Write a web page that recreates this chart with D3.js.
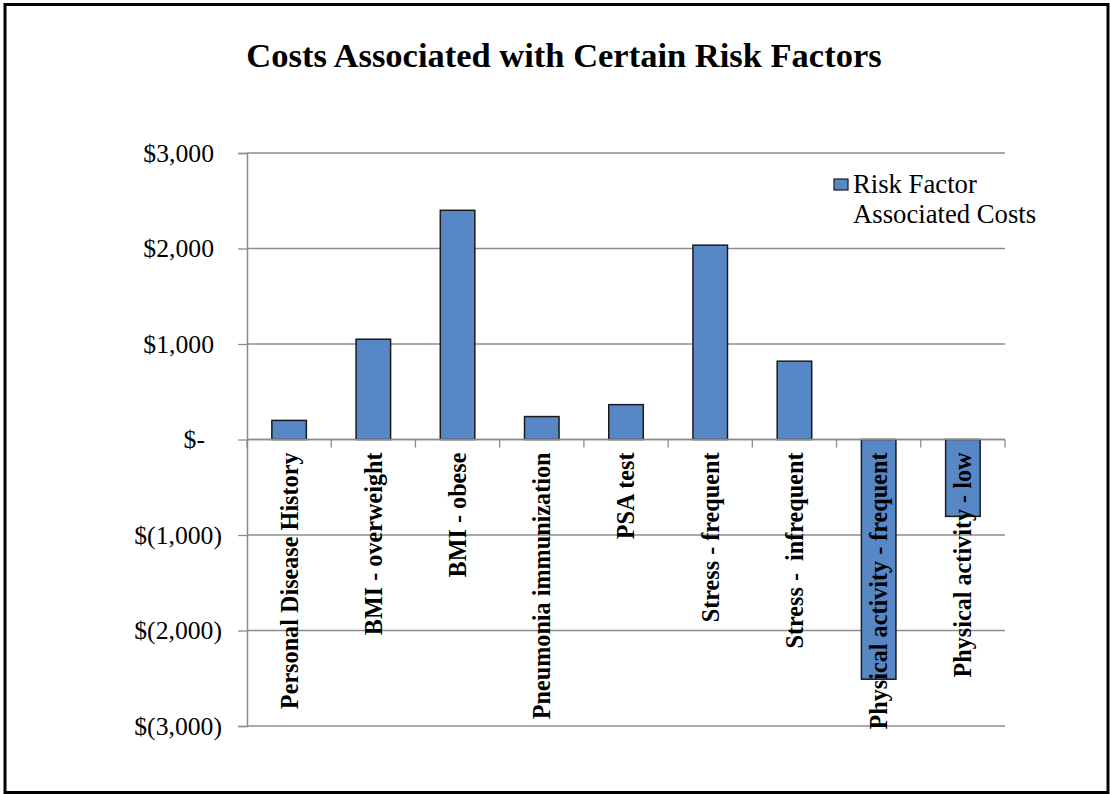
<!DOCTYPE html>
<html>
<head>
<meta charset="utf-8">
<script src="https://cdn.jsdelivr.net/npm/d3@7"></script>
<style>
  body { margin: 0; background: #fff; }
  svg { display: block; font-family: "Liberation Serif", "Times New Roman", serif; }
</style>
</head>
<body>
<svg width="1110" height="794"></svg>
<script>
  // data
  var categories = ['Personal Disease History', 'BMI - overweight', 'BMI - obese',
    'Pneumonia immunization', 'PSA test', 'Stress - frequent', 'Stress -  infrequent',
    'Physical activity - frequent', 'Physical activity - low'];
  var costs = [200, 1050, 2400, 240, 365, 2035, 820, -2510, -805];
  var yTicks = [3000, 2000, 1000, 0, -1000, -2000, -3000];
  var seriesName = ['Risk Factor', 'Associated Costs'];
  var title = 'Costs Associated with Certain Risk Factors';

  var data = categories.map(function (c, i) { return { name: c, value: costs[i] }; });

  var svg = d3.select('svg'),
    margin = { top: 153, right: 105, bottom: 68, left: 247 },
    width = +svg.attr('width') - margin.left - margin.right,
    height = +svg.attr('height') - margin.top - margin.bottom;

  // outer frame
  svg.append('rect')
    .attr('x', 5).attr('y', 4.5)
    .attr('width', 1103).attr('height', 788)
    .attr('fill', '#fff')
    .attr('stroke', '#000')
    .attr('stroke-width', 3);

  // title
  svg.append('text')
    .attr('x', 564)
    .attr('y', 67)
    .attr('text-anchor', 'middle')
    .style('font-size', '34.5px')
    .style('font-weight', 'bold')
    .text(title);

  var g = svg.append('g').attr('transform', 'translate(' + margin.left + ',' + margin.top + ')');

  var x = d3.scaleBand().domain(categories).range([0, width]).paddingInner(0.59).paddingOuter(0.295);
  var y = d3.scaleLinear().domain([-3000, 3000]).range([height, 0]);

  // gridlines
  g.append('g')
    .selectAll('line')
    .data(yTicks)
    .enter().append('line')
    .attr('x1', 0).attr('x2', width)
    .attr('y1', function (d) { return y(d); })
    .attr('y2', function (d) { return y(d); })
    .attr('stroke', '#8c8c8c')
    .attr('stroke-width', 1.3);

  // bars
  g.selectAll('.bar')
    .data(data)
    .enter().append('rect')
    .attr('class', 'bar')
    .attr('x', function (d) { return x(d.name); })
    .attr('width', x.bandwidth())
    .attr('y', function (d) { return y(Math.max(0, d.value)); })
    .attr('height', function (d) { return Math.abs(y(d.value) - y(0)); })
    .attr('fill', '#5787c5')
    .attr('stroke', '#1a1a1a')
    .attr('stroke-width', 1.5);

  // y axis
  var fmt = function (d) {
    if (d === 0) return '$-';
    var s = '$' + d3.format(',')(Math.abs(d));
    return d < 0 ? '$(' + d3.format(',')(Math.abs(d)) + ')' : s;
  };
  var yAxis = g.append('g')
    .call(d3.axisLeft(y).tickValues(yTicks).tickFormat(fmt).tickSize(9).tickPadding(0));
  yAxis.select('.domain').attr('stroke', '#8c8c8c').attr('stroke-width', 1.5);
  yAxis.selectAll('.tick line').attr('stroke', '#8c8c8c').attr('stroke-width', 1.3);
  yAxis.selectAll('.tick text')
    .attr('fill', '#000')
    .style('font-size', '25.7px')
    .style('font-family', '"Liberation Serif", serif')
    .attr('x', function (d) { return d < 0 ? -25 : (d === 0 ? -42 : -33); })
    .attr('dy', '0.32em');

  // x axis at zero, ticks at band boundaries
  var bounds = d3.range(categories.length + 1).map(function (i) { return i * width / categories.length; });
  var xg = g.append('g').attr('transform', 'translate(0,' + y(0) + ')');
  xg.append('line')
    .attr('x1', 0).attr('x2', width)
    .attr('stroke', '#8c8c8c').attr('stroke-width', 1.5);
  xg.selectAll('.xt')
    .data(bounds)
    .enter().append('line')
    .attr('class', 'xt')
    .attr('x1', function (d) { return d; })
    .attr('x2', function (d) { return d; })
    .attr('y1', 0).attr('y2', 8)
    .attr('stroke', '#8c8c8c').attr('stroke-width', 1.3);

  // category labels, rotated
  xg.selectAll('.xl')
    .data(categories)
    .enter().append('text')
    .attr('class', 'xl')
    .attr('transform', function (d) {
      return 'translate(' + (x(d) + x.bandwidth() / 2) + ',13) rotate(-90)';
    })
    .attr('text-anchor', 'end')
    .attr('dy', '0.35em')
    .style('font-size', '24.2px')
    .style('font-weight', 'bold')
    .style('white-space', 'pre')
    .text(function (d) { return d; });

  // legend
  var lg = svg.append('g').attr('transform', 'translate(834,179)');
  lg.append('rect')
    .attr('width', 14).attr('height', 11)
    .attr('fill', '#5787c5')
    .attr('stroke', '#1a1a1a')
    .attr('stroke-width', 1.2);
  lg.selectAll('text')
    .data(seriesName)
    .enter().append('text')
    .attr('x', 19)
    .attr('y', function (d, i) { return 14 + i * 30; })
    .style('font-size', '26.7px')
    .text(function (d) { return d; });
</script>
</body>
</html>
